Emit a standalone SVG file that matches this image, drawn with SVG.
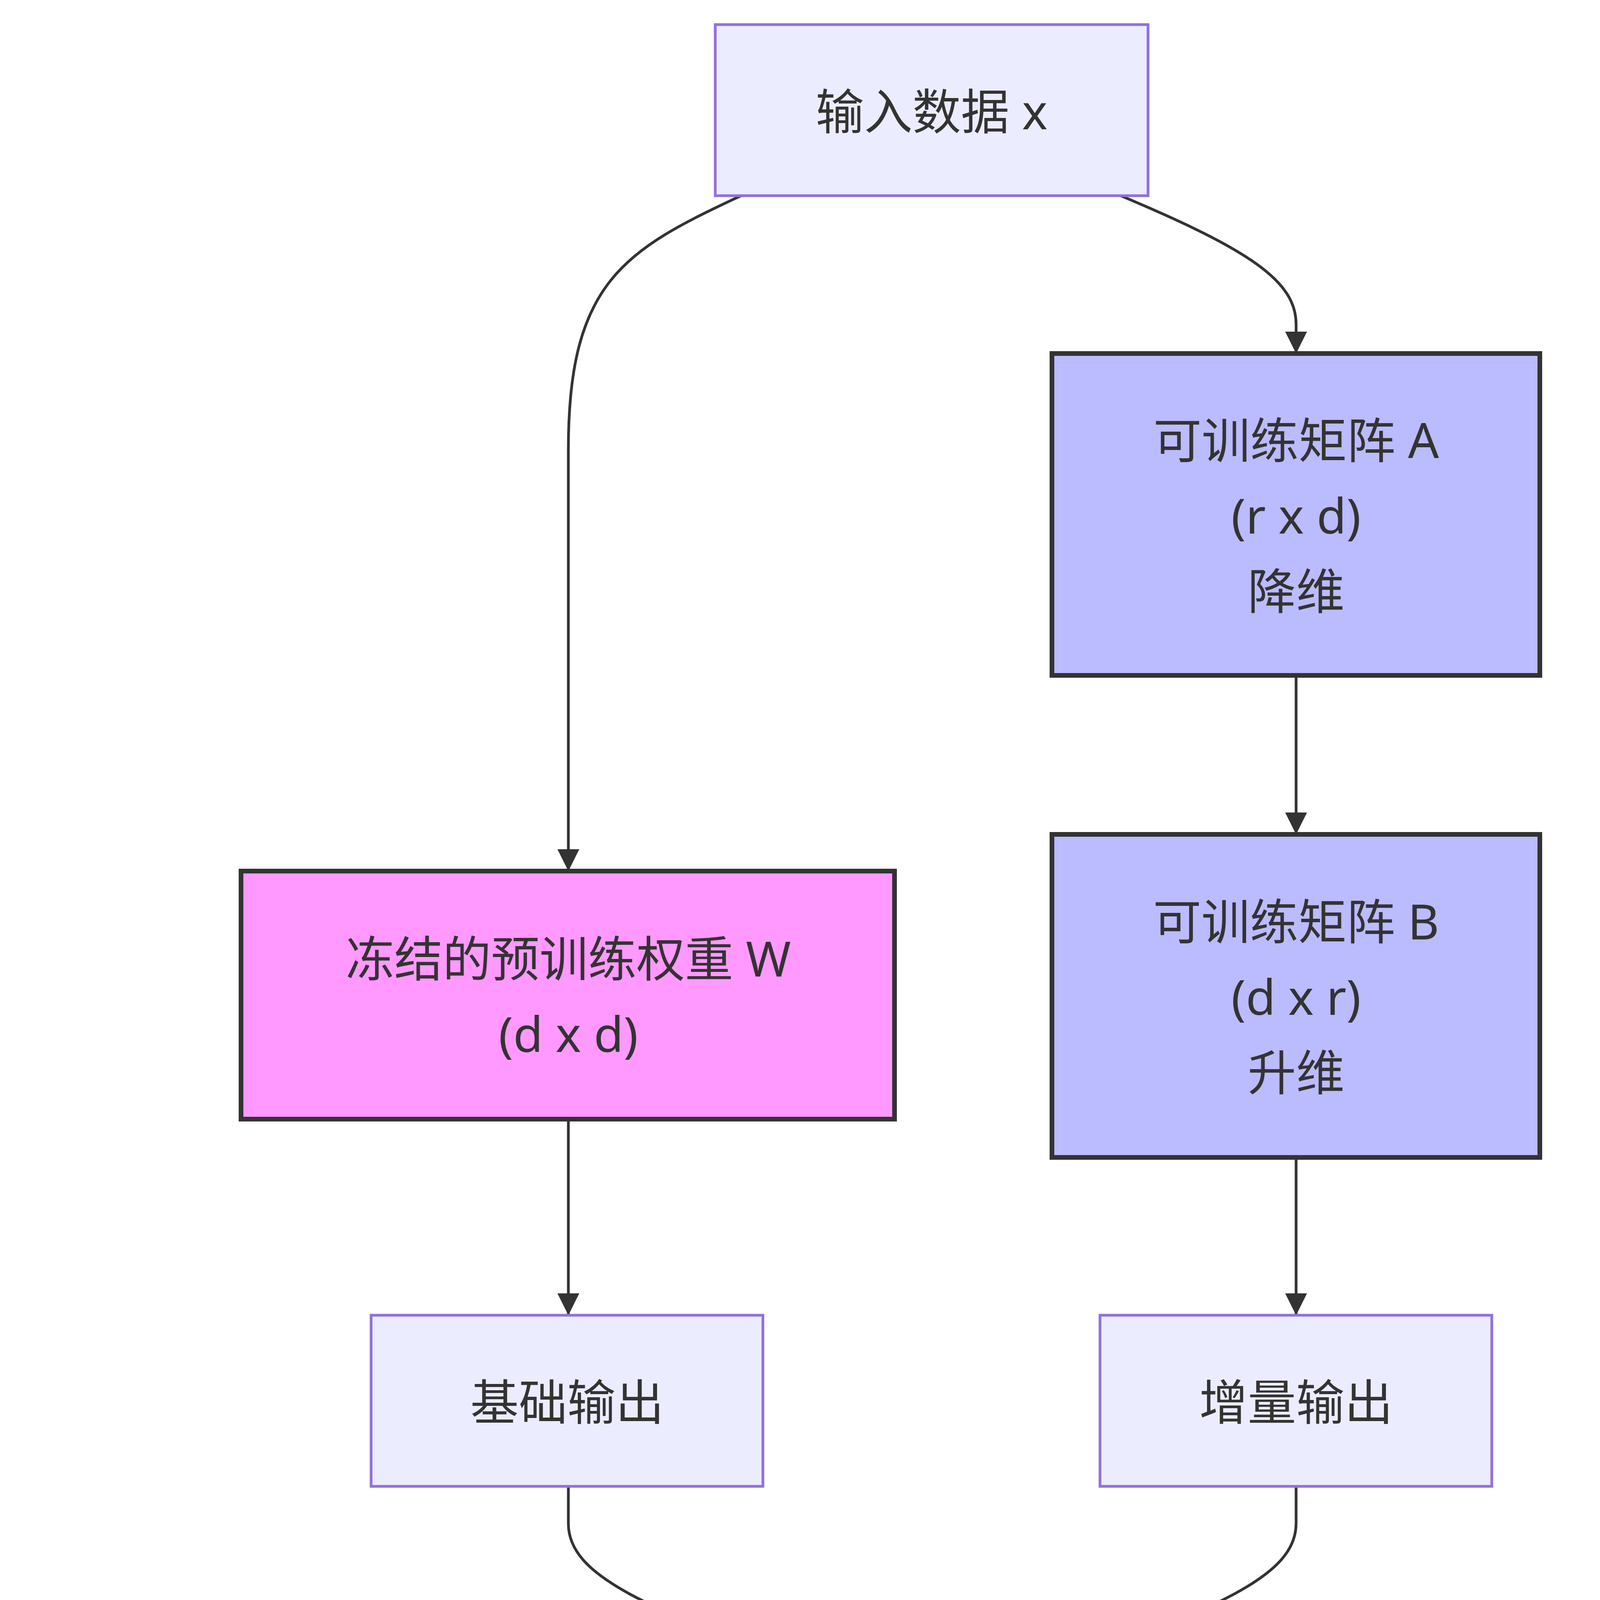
<svg xmlns="http://www.w3.org/2000/svg" width="4560" height="5496" viewBox="0 0 4560 5496">
<style>
.d{fill:#ECECFF;stroke:#9370DB;stroke-width:7}
.t{fill:#BBBBFF;stroke:#333;stroke-width:12}
.f{fill:#FF99FF;stroke:#333;stroke-width:12}
text{font-family:"Noto Sans","Noto Sans CJK SC",sans-serif;font-size:124px;fill:#333;text-anchor:middle;dominant-baseline:central}
.e{fill:none;stroke:#333;stroke-width:7;marker-end:url(#a)}
</style>
<defs><marker id="a" markerUnits="userSpaceOnUse" markerWidth="56" markerHeight="56" viewBox="0 0 10 10" refX="10" refY="5" orient="auto"><path d="M0,0L10,5L0,10z" fill="#333"/></marker></defs>
<rect width="4560" height="5496" fill="#fff"/>
<g id="edges">
<path class="e" d="M1897,501 C1600,640 1455,720 1455,1150 L1455,2230"/>
<path class="e" d="M2869,501 C3200,640 3318,720 3318,830 L3318,905"/>
<path class="e" d="M3318,1729 L3318,2136"/>
<path class="e" d="M1455,2865 L1455,3367"/>
<path class="e" d="M3318,2963 L3318,3367"/>
<path class="e" d="M1455,3805 L1455,3900 C1455,4050 1700,4130 2200,4322"/>
<path class="e" d="M3318,3805 L3318,3900 C3318,4050 3070,4130 2570,4322"/>
<path class="e" d="M2385,4587 L2385,4994"/>
</g>
<g id="x"><rect class="d" x="1831" y="63" width="1108" height="438"/><text x="2385" y="282">输入数据 x</text></g>
<g id="A"><rect class="t" x="2693" y="905" width="1249" height="824"/><text x="3318" y="1124">可训练矩阵 A</text><text x="3318" y="1317">(r x d)</text><text x="3318" y="1510">降维</text></g>
<g id="W"><rect class="f" x="617" y="2230" width="1673" height="635"/><text x="1455" y="2451">冻结的预训练权重 W</text><text x="1455" y="2644">(d x d)</text></g>
<g id="B"><rect class="t" x="2693" y="2136" width="1249" height="827"/><text x="3318" y="2356">可训练矩阵 B</text><text x="3318" y="2549">(d x r)</text><text x="3318" y="2742">升维</text></g>
<g id="base"><rect class="d" x="950" y="3367" width="1003" height="438"/><text x="1452" y="3586">基础输出</text></g>
<g id="delta"><rect class="d" x="2816" y="3367" width="1003" height="438"/><text x="3318" y="3586">增量输出</text></g>
<g id="add"><circle class="d" cx="2385" cy="4398" r="189"/><text x="2385" y="4398">相加</text></g>
<g id="h"><rect class="d" x="1827" y="4994" width="1115" height="438"/><text x="2385" y="5213">最终输出 h</text></g>
</svg>
